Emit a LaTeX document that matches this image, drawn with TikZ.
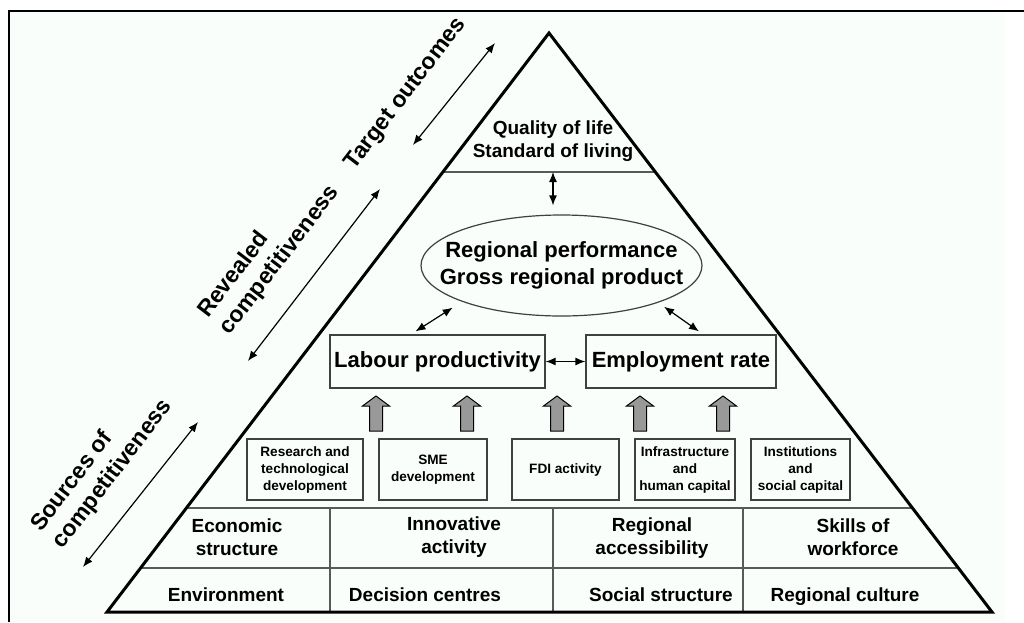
\documentclass[tikz,border=0pt]{standalone}
\usepackage{fontspec}
\setmainfont{Liberation Sans}
\usetikzlibrary{calc,shapes.geometric,arrows.meta}
\definecolor{paper}{RGB}{250,254,250}
\begin{document}
\begin{tikzpicture}[x=0.5pt,y=-0.5pt]
    \tikzset{
        core box/.style={draw=black!75,line width=0.6pt,inner sep=0pt,minimum height=26.5pt,font=\fontsize{11}{13.5}\selectfont\bfseries},
        factor box/.style={draw=black!75,line width=0.6pt,inner sep=0pt,minimum height=30.5pt,align=center,font=\fontsize{6.8}{8.5}\selectfont\bfseries},
        row text/.style={align=center,inner sep=0pt,font=\fontsize{9.5}{11.5}\selectfont\bfseries},
        side label/.style={rotate=52.6,align=left,inner sep=0pt,font=\fontsize{11.5}{13.8}\selectfont\bfseries},
        twoway/.style={{Latex[length=5pt,width=4pt]}-{Latex[length=5pt,width=4pt]},line width=0.6pt},
        divider/.style={draw=black!65,line width=0.6pt}}
    \useasboundingbox (0,0) rectangle (1024,622);
    \fill[paper] (9,11) rectangle (1005,622);
    \draw[line width=1.2pt] (9,622) -- (9,11) -- (1024,11);
    % the pyramid and its layers
    \coordinate (apex) at (549,33);
    \coordinate (bl) at (107,612);
    \coordinate (br) at (992,612);
    \draw[divider] ($(apex)!0.24!(bl)$) -- ($(apex)!0.24!(br)$);
    \draw[divider] ($(apex)!0.8204!(bl)$) -- ($(apex)!0.8204!(br)$);
    \draw[divider] ($(apex)!0.924!(bl)$) -- ($(apex)!0.924!(br)$);
    \foreach \x in {330,553,743}
        \draw[divider] (\x,508) -- (\x,612);
    \draw[line width=1.5pt,line join=miter] (apex) -- (bl) -- (br) -- cycle;
    \coordinate (lifeline) at (553,172);
    \node[row text] (quality) at (553,141) {Quality of life\\Standard of living};
    \node[core box,ellipse,inner xsep=-12pt,inner ysep=0pt,minimum width=140.5pt,minimum height=50.5pt,align=center] (perf) at (561.5,265.5) {Regional performance\\Gross regional product};
    \node[core box,minimum width=107.5pt] (labour) at (437.5,361.5) {Labour productivity};
    \node[core box,minimum width=95pt] (employ) at (681,361.5) {Employment rate};
    \node[factor box,minimum width=58pt] (rtd) at (305,469.5) {Research and\\technological\\development};
    \node[factor box,minimum width=54pt] (sme) at (433,469.5) {SME\\development};
    \node[factor box,minimum width=53.5pt] (fdi) at (565.5,469.5) {FDI activity};
    \node[factor box,minimum width=50pt] (infra) at (685,469.5) {Infrastructure\\and\\human capital};
    \node[factor box,minimum width=49.5pt] (inst) at (800.5,469.5) {Institutions\\and\\social capital};
    \foreach \x in {376,467,557,640,723}
        \draw[fill=black!40,line width=0.5pt] ({\x-6.5},431) -- ({\x-6.5},406) -- ({\x-13.5},406) -- (\x,396)
            -- ({\x+13.5},406) -- ({\x+6.5},406) -- ({\x+6.5},431) -- cycle;
    \node[row text] (econ) at (237,537) {Economic\\structure};
    \node[row text] (innov) at (454,537) {Innovative\\activity};
    \node[row text] (access) at (652,538) {Regional\\accessibility};
    \node[row text] (skills) at (853,537) {Skills of\\workforce};
    \node[row text,anchor=base] (environ) at (226,601) {Environment};
    \node[row text,anchor=base] (decision) at (425,601) {Decision centres};
    \node[row text,anchor=base] (social) at (661,601) {Social structure};
    \node[row text,anchor=base] (culture) at (845,601) {Regional culture};
    \draw[twoway,shorten >=4.5pt] (lifeline) -- (lifeline |- perf.north);
    \draw[twoway,shorten >=5.5pt] ([xshift=-11pt,yshift=1.5pt]labour.north) -- (perf.200);
    \draw[twoway,shorten <=3.5pt] (perf.339) -- ([xshift=9pt,yshift=1.5pt]employ.north);
    \draw[twoway] (labour) -- (employ);
    % levels along the left side
    \node[side label] (target) at (406,94) {Target outcomes};
    \node[side label,anchor=west] (revealed) at (214,324) {Revealed\\competitiveness};
    \node[side label,anchor=west] (sources) at (47,538) {Sources of\\competitiveness};
    \coordinate (t1) at (413,145);
    \coordinate (t2) at (495,43);
    \coordinate (r1) at (248,361);
    \coordinate (r2) at (380,189);
    \coordinate (s1) at (83,567);
    \coordinate (s2) at (198,422);
    \draw[twoway] (t1) -- (t2);
    \draw[twoway] (r1) -- (r2);
    \draw[twoway] (s1) -- (s2);
\end{tikzpicture}
\end{document}
